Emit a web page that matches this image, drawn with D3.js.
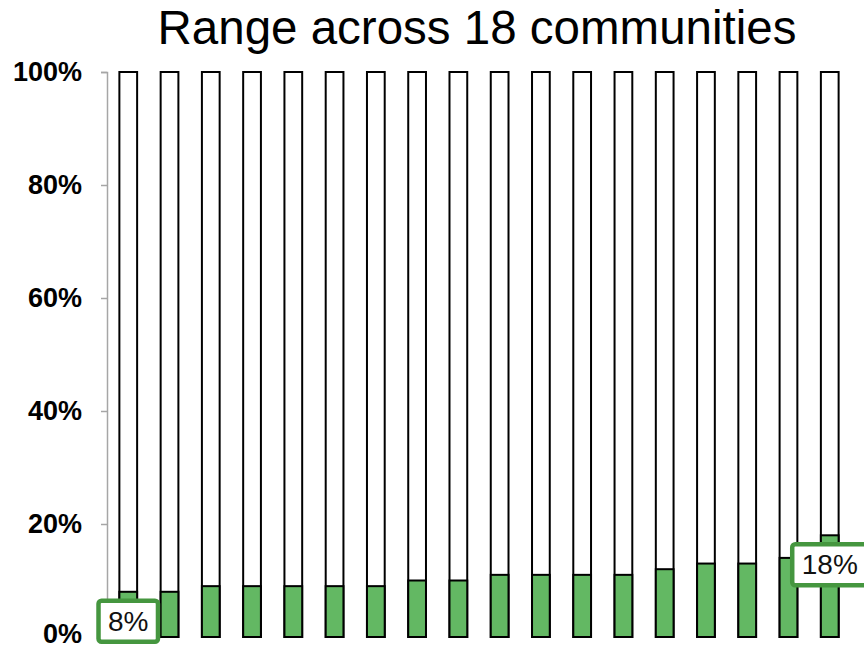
<!DOCTYPE html>
<html>
<head>
<meta charset="utf-8">
<script src="https://cdn.jsdelivr.net/npm/d3@7"></script>
<style>
  body { margin: 0; background: #fff; }
  text { font-family: "Liberation Sans", Arial, sans-serif; }
  .tick-label { font-weight: bold; font-size: 27px; }
</style>
</head>
<body>
<svg width="864" height="650"></svg>
<script>
const communities = d3.range(1, 19).map(i => 'C' + i)
    , shares = [8, 8, 9, 9, 9, 9, 9, 10, 10, 11, 11, 11, 11, 12, 13, 13, 14, 18]
    , yTicks = [0, 20, 40, 60, 80, 100]
    , callouts = [{ idx: 0, text: '8%' }, { idx: 17, text: '18%' }]
    , title = 'Range across 18 communities'

const plotLeft = 107
    , plotRight = 851
    , plotTop = 72
    , plotBottom = 637
    , green = '#63b863'
    , darkGreen = '#45963f'
    , svg = d3.select('svg')

const x = d3.scaleBand()
    .domain(communities)
    .range([plotLeft, plotRight])
    .paddingInner(0.57)
    .paddingOuter(0.3)

const y = d3.scaleLinear()
    .domain([0, 100])
    .range([plotBottom, plotTop])

// title
svg.append('text')
    .attr('x', 477)
    .attr('y', 44)
    .attr('text-anchor', 'middle')
    .attr('font-size', 47.5)
    .text(title)

// y axis
const axis = svg.append('g')
    .attr('transform', `translate(${plotLeft},0)`)
    .call(d3.axisLeft(y).tickValues(yTicks).tickSize(6).tickFormat(d => d + '%'))
axis.select('.domain').attr('stroke', '#a6a6a6').attr('stroke-width', 1.5)
axis.selectAll('.tick line').attr('stroke', '#a6a6a6').attr('stroke-width', 1.5)
axis.selectAll('.tick text')
    .attr('class', 'tick-label')
    .attr('x', -25)
    .attr('y', d => d === 0 ? -3 : 0) // keep the 0% label inside the frame
    .attr('fill', '#000')
    .attr('dy', '0.33em')
    .style('font-family', '"Liberation Sans", Arial, sans-serif')

// full (100%) bars
svg.append('g').selectAll('rect.full')
    .data(communities)
    .join('rect')
    .attr('class', 'full')
    .attr('x', d => x(d))
    .attr('width', x.bandwidth())
    .attr('y', y(100))
    .attr('height', y(0) - y(100))
    .attr('fill', '#fff')
    .attr('stroke', '#000')
    .attr('stroke-width', 2)

// green share
svg.append('g').selectAll('rect.share')
    .data(shares)
    .join('rect')
    .attr('class', 'share')
    .attr('x', (d, i) => x(communities[i]))
    .attr('width', x.bandwidth())
    .attr('y', d => y(d))
    .attr('height', d => y(0) - y(d))
    .attr('fill', green)
    .attr('stroke', '#000')
    .attr('stroke-width', 2)

// callout labels
const lab = svg.append('g').selectAll('g')
    .data(callouts)
    .join('g')
    .attr('transform', d => `translate(${x(communities[d.idx]) + x.bandwidth() / 2},${y(shares[d.idx]) + 29})`)
lab.append('rect')
    .attr('fill', '#fff')
    .attr('stroke', darkGreen)
    .attr('stroke-width', 4.5)
    .attr('rx', 3)
lab.append('text')
    .attr('text-anchor', 'middle')
    .attr('dy', '0.36em')
    .attr('font-size', 28)
    .attr('fill', '#111')
    .text(d => d.text)
    .each(function () {
        const w = this.getComputedTextLength() + 19
        d3.select(this.parentNode).select('rect')
            .attr('x', -w / 2)
            .attr('width', w)
            .attr('y', -20)
            .attr('height', 41)
    })
</script>
</body>
</html>
